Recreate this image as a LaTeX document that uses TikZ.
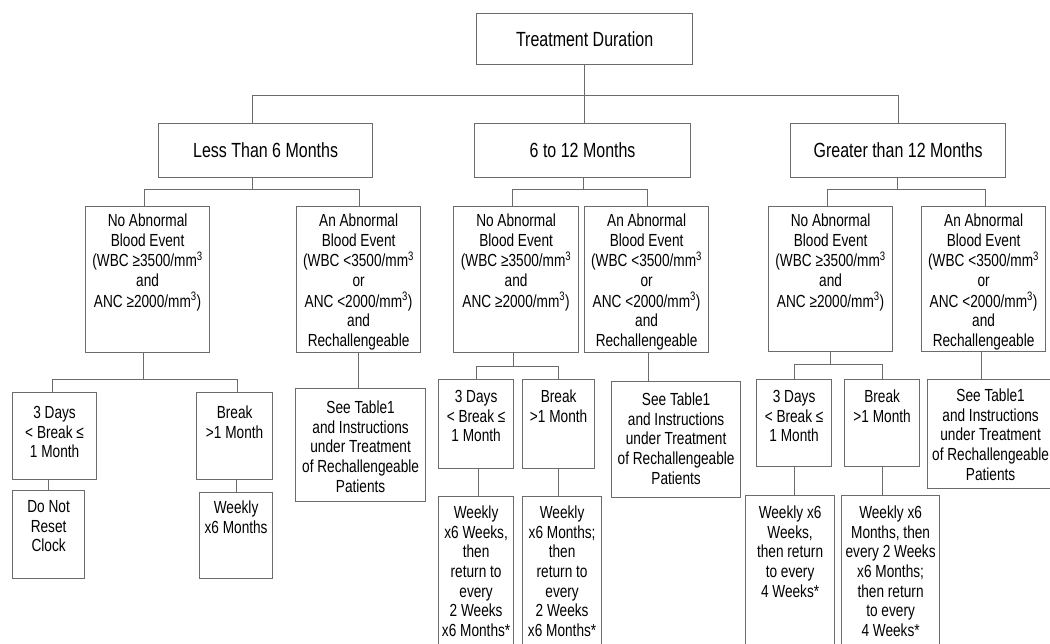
\documentclass[tikz,border=0pt]{standalone}
\usepackage{fontspec}
\setmainfont{Liberation Sans}[FakeStretch=0.78]
\definecolor{linec}{gray}{0.42}
\newcommand\smallfont{\fontsize{17.5}{19.7}\selectfont}
\newcommand\bigfont{\fontsize{20.5}{24}\selectfont}
\newcommand\sq{\textsuperscript{3}}
\tikzset{
  boxst/.style={draw=linec, line width=1.2pt, inner sep=0pt, anchor=north west},
  conn/.style={draw=linec, line width=1.2pt},
}
\newcommand\bx[7]{%
  \node[boxst] (#1) at (#2,#3) {\parbox[t][\dimexpr #5pt-#3pt\relax][t]{\dimexpr #4pt-#2pt\relax}{\vspace*{#6pt}\makebox[\linewidth]{\smallfont\begin{tabular}[t]{@{}c@{}}#7\end{tabular}}}};}
\newcommand\cbx[6]{%
  \node[boxst, minimum width=#4pt-#2pt, minimum height=#5pt-#3pt, font=\bigfont] (#1) at (#2,#3) {#6};}
\begin{document}
\begin{tikzpicture}[x=1pt, y=-1pt]
\useasboundingbox (0,0) rectangle (1050,643);
\fill[white] (0,0) rectangle (1050,643);
\clip (0,0) rectangle (1050,643);
% level 0 and 1
\cbx{root}{476}{13}{692}{64}{Treatment Duration}
\cbx{L6}{158}{123}{372}{177}{Less Than 6 Months}
\cbx{M6}{474}{123}{690}{177}{6 to 12 Months}
\cbx{G12}{790}{123}{1005}{177}{Greater than 12 Months}
% level 2
\bx{LN}{85}{206}{209}{352}{6}{No Abnormal\\Blood Event\\(WBC ≥3500/mm\sq\\and\\ANC ≥2000/mm\sq)}
\bx{LA}{296}{206}{420}{352}{6}{An Abnormal\\Blood Event\\(WBC <3500/mm\sq\\or\\ANC <2000/mm\sq)\\and\\Rechallengeable}
\bx{MN}{453}{206}{578}{352}{6}{No Abnormal\\Blood Event\\(WBC ≥3500/mm\sq\\and\\ANC ≥2000/mm\sq)}
\bx{MA}{584}{206}{708}{352}{6}{An Abnormal\\Blood Event\\(WBC <3500/mm\sq\\or\\ANC <2000/mm\sq)\\and\\Rechallengeable}
\bx{GN}{768}{206}{892}{351}{6}{No Abnormal\\Blood Event\\(WBC ≥3500/mm\sq\\and\\ANC ≥2000/mm\sq)}
\bx{GA}{921}{206}{1045}{351}{6}{An Abnormal\\Blood Event\\(WBC <3500/mm\sq\\or\\ANC <2000/mm\sq)\\and\\Rechallengeable}
% level 3 and 4, left
\bx{L3D}{12}{392}{96}{479}{12}{3 Days\\< Break ≤\\1 Month}
\bx{LBr}{196}{392}{272}{479}{12}{Break\\>1 Month}
\bx{LDN}{12}{490}{84}{578}{8}{Do Not\\Reset\\Clock}
\bx{LWk}{199}{492}{272}{578}{7}{Weekly\\x6 Months}
\bx{LSee}{295}{388}{425}{501}{11}{See Table1\\and Instructions\\under Treatment\\of Rechallengeable\\Patients}
% middle
\bx{M3D}{438}{379}{513}{468}{9}{3 Days\\< Break ≤\\1 Month}
\bx{MBr}{522}{379}{594}{468}{9}{Break\\>1 Month}
\bx{MWa}{438}{496}{513}{660}{8}{Weekly\\x6 Weeks,\\then\\return to\\every\\2 Weeks\\x6 Months*}
\bx{MWb}{522}{496}{601}{660}{8}{Weekly\\x6 Months;\\then\\return to\\every\\2 Weeks\\x6 Months*}
\bx{MSee}{611}{381}{740}{497}{10}{See Table1\\and Instructions\\under Treatment\\of Rechallengeable\\Patients}
% right
\bx{G3D}{756}{379}{831}{466}{9}{3 Days\\< Break ≤\\1 Month}
\bx{GBr}{844}{379}{919}{466}{9}{Break\\>1 Month}
\bx{GWa}{745}{495}{834}{660}{9}{Weekly x6\\Weeks,\\then return\\to every\\4 Weeks*}
\bx{GWb}{841}{495}{939}{660}{9}{Weekly x6\\Months, then\\every 2 Weeks\\x6 Months;\\then return\\to every\\4 Weeks*}
\bx{GSee}{927}{379}{1053}{488}{8}{See Table1\\and Instructions\\under Treatment\\of Rechallengeable\\Patients}
% connectors level 0 -> 1
\path (root.south) ++(0,30) coordinate (b0);
\draw[conn] (root.south) -- (root.south |- M6.north);
\draw[conn] ([xshift=-13pt]L6.north) |- (b0) -| ([xshift=0.5pt]G12.north);
% level 1 -> 2
\path ([xshift=-13pt]L6.south) ++(0,11) coordinate (b1);
\draw[conn] ([xshift=-13pt]L6.south) -- (b1);
\draw[conn] ([xshift=-3pt]LN.north) |- (b1) -| ([xshift=1pt]LA.north);
\path ([xshift=1pt]M6.south) ++(0,11) coordinate (b2);
\draw[conn] ([xshift=1pt]M6.south) -- (b2);
\draw[conn] ([xshift=-3.5pt]MN.north) |- (b2) -| ([xshift=1pt]MA.north);
\path ([xshift=-0.5pt]G12.south) ++(0,11) coordinate (b3);
\draw[conn] ([xshift=-0.5pt]G12.south) -- (b3);
\draw[conn] ([xshift=-3pt]GN.north) |- (b3) -| ([xshift=2pt]GA.north);
% level 2 -> 3
\path ([xshift=-4pt]LN.south) ++(0,26) coordinate (b4);
\draw[conn] ([xshift=-4pt]LN.south) -- (b4);
\draw[conn] ([xshift=-2pt]L3D.north) |- (b4) -| ([xshift=3pt]LBr.north);
\path ([xshift=-2.5pt]MN.south) ++(0,13) coordinate (b5);
\draw[conn] ([xshift=-2.5pt]MN.south) -- (b5);
\draw[conn] (M3D.north) |- (b5) -| (MBr.north);
\path (GN.south) ++(0,12) coordinate (b6);
\draw[conn] (GN.south) -- (b6);
\draw[conn] (G3D.north) |- (b6) -| (GBr.north);
\draw[conn] (LA.south) -- (LA.south |- LSee.north);
\draw[conn] ([xshift=2pt]MA.south) -- ([xshift=2pt]MA.south |- MSee.north);
\draw[conn] ([xshift=-2pt]GA.south) -- ([xshift=-2pt]GA.south |- GSee.north);
% level 3 -> 4
\draw[conn] (LDN.north) -- (LDN.north |- L3D.south);
\draw[conn] (LWk.north) -- (LWk.north |- LBr.south);
\draw[conn] ([xshift=2.5pt]M3D.south) -- ([xshift=2.5pt]M3D.south |- MWa.north);
\draw[conn] (MBr.south) -- (MBr.south |- MWb.north);
\draw[conn] (G3D.south) -- (G3D.south |- GWa.north);
\draw[conn] (GBr.south) -- (GBr.south |- GWb.north);
\end{tikzpicture}
\end{document}
